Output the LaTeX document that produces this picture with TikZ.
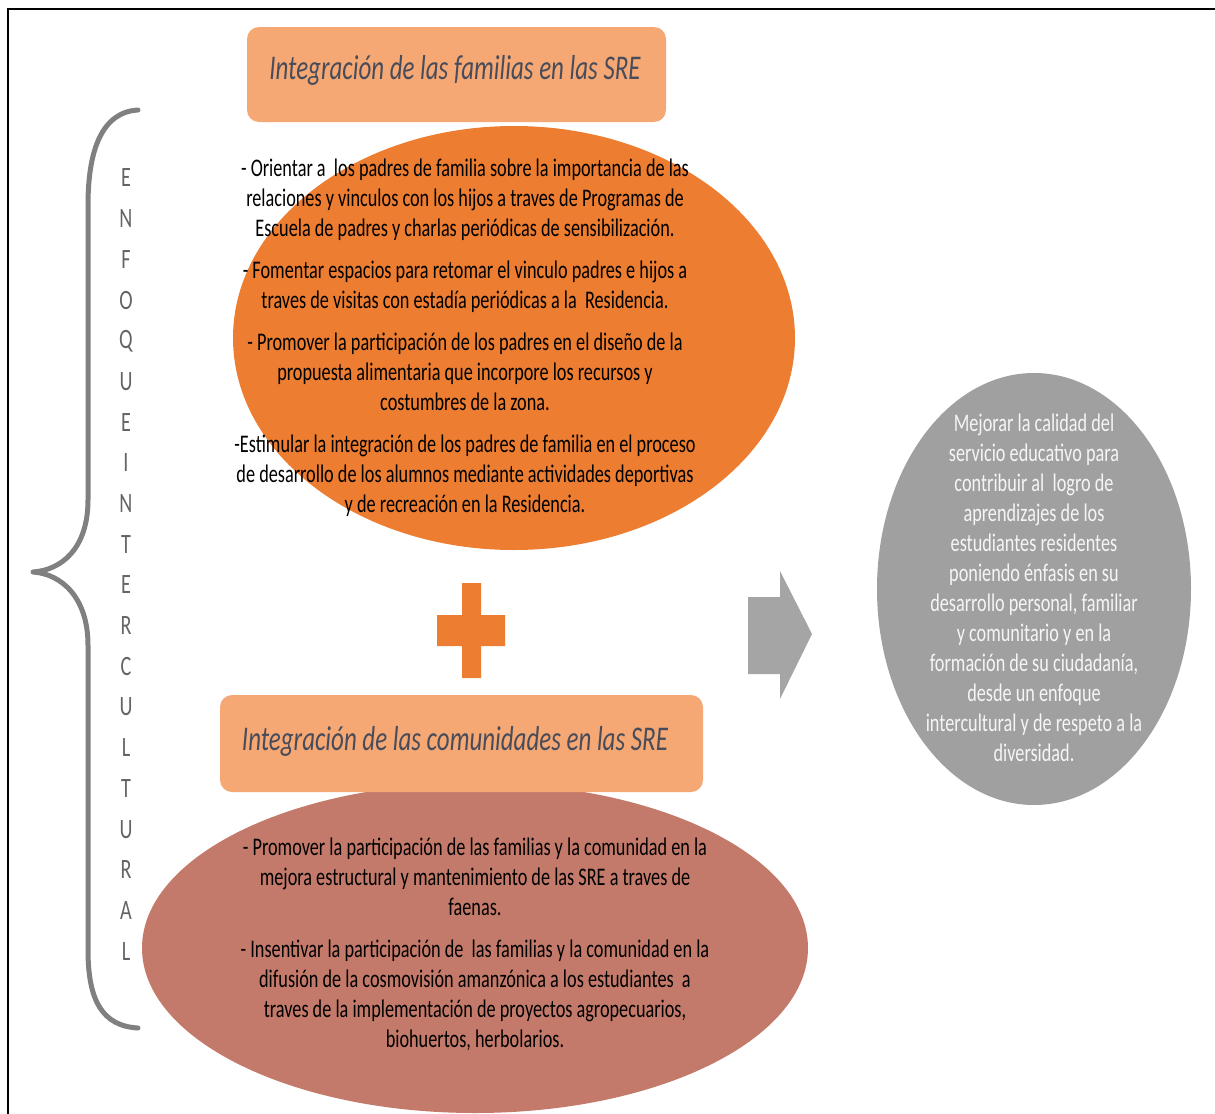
\documentclass[tikz,border=0pt]{standalone}
\usepackage{fontspec}
\setmainfont{Carlito}[FakeStretch=0.72]

\begin{document}
\begin{tikzpicture}[x=0.75pt,y=0.75pt,yscale=-1,xscale=1,
  bodytxt/.style={align=center,inner sep=0pt,font=\fontsize{19}{22.5}\selectfont},
  titletxt/.style={inner sep=0pt,font=\fontsize{26}{28}\selectfont\itshape,text={rgb,255:red,72;green,76;blue,90}}]
\useasboundingbox (0,0) rectangle (1215,1114);

%Shape: Frame
\draw [line width=1.5]  (8,1120) -- (8,9) -- (1220,9) ;

%Shape: Brace
\draw [color={rgb, 255:red, 128; green, 128; blue, 128 }, line width=3.75, line cap=round, line join=round]  (138,110) .. controls (102,112) and (88,150) .. (88,205) -- (88,500) .. controls (88,548) and (62,570) .. (33,572) .. controls (62,574) and (88,598) .. (88,645) -- (88,950) .. controls (88,1000) and (102,1026) .. (138,1028) ;

% Text Node: vertical letters
\foreach \l [count=\i from 0] in {E,N,F,O,Q,U,E,I,N,T,E,R,C,U,L,T,U,R,A,L}
  \draw (126,178+40.7*\i) node [inner sep=0pt, text={rgb,255:red,100;green,100;blue,100}, font=\fontsize{21}{21}\selectfont] (let\i) {\l};

%Shape: Ellipse (familias)
\draw  [draw opacity=0][fill={rgb, 255:red, 237; green, 125; blue, 49 }  ,fill opacity=1 ] (514,338) ellipse (281 and 212) ;
%Shape: Rounded Rect (familias)
\draw  [draw opacity=0][fill={rgb, 255:red, 245; green, 168; blue, 115 }  ,fill opacity=1 ][rounded corners=9] (247,27) rectangle (666,122) ;

%Shape: Cross
\draw  [draw opacity=0][fill={rgb, 255:red, 237; green, 125; blue, 49 }  ,fill opacity=1 ] (462,583) -- (481,583) -- (481,615) -- (505,615) -- (505,646) -- (481,646) -- (481,678) -- (462,678) -- (462,646) -- (437,646) -- (437,615) -- (462,615) -- cycle ;

%Shape: Ellipse (comunidades)
\draw  [draw opacity=0][fill={rgb, 255:red, 196; green, 122; blue, 107 }  ,fill opacity=1 ] (475,948) ellipse (333 and 165) ;
%Shape: Rounded Rect (comunidades)
\draw  [draw opacity=0][fill={rgb, 255:red, 245; green, 168; blue, 115 }  ,fill opacity=1 ][rounded corners=9] (220,695) rectangle (703,792) ;

%Shape: Right Arrow
\draw  [draw opacity=0][fill={rgb, 255:red, 165; green, 165; blue, 165 }  ,fill opacity=1 ] (748,597) -- (780,597) -- (780,571) -- (812,634) -- (780,699) -- (780,674) -- (748,674) -- cycle ;

%Shape: Ellipse (meta)
\draw  [draw opacity=0][fill={rgb, 255:red, 160; green, 160; blue, 160 }  ,fill opacity=1 ] (1034,589) ellipse (157 and 216) ;

% Text Node
\draw (455,70) node [titletxt] (famtitle) {Integración de las familias en las SRE};
% Text Node
\draw (455,741) node [titletxt] (comtitle) {Integración de las comunidades en las SRE};
% Text Node
\draw (465,338) node [bodytxt] (famtxt) {- Orientar a\ \ los padres de familia sobre la importancia de las\\ relaciones y vinculos con los hijos a traves de Programas de\\ Escuela de padres y charlas periódicas de sensibilización.\\[9pt] - Fomentar espacios para retomar el vinculo padres e hijos a\\ traves de visitas con estadía periódicas a la\ \ Residencia.\\[9pt] - Promover la participación de los padres en el diseño de la\\ propuesta alimentaria que incorpore los recursos y\\ costumbres de la zona.\\[9pt] -Estimular la integración de los padres de familia en el proceso\\ de desarrollo de los alumnos mediante actividades deportivas\\ y de recreación en la Residencia.};
% Text Node
\draw (475,944) node [bodytxt] (comtxt) {- Promover la participación de las familias y la comunidad en la\\ mejora estructural y mantenimiento de las SRE a traves de\\ faenas.\\[9pt] - Insentivar la participación de\ \ las familias y la comunidad en la\\ difusión de la cosmovisión amanzónica a los estudiantes\ \ a\\ traves de la implementación de proyectos agropecuarios,\\ biohuertos, herbolarios.};
% Text Node
\draw (1034,588) node [bodytxt, text={rgb,255:red,245;green,245;blue,245}] (metatxt) {Mejorar la calidad del\\ servicio educativo para\\ contribuir al\ \ logro de\\ aprendizajes de los\\ estudiantes residentes\\ poniendo énfasis en su\\ desarrollo personal, familiar\\ y comunitario y en la\\ formación de su ciudadanía,\\ desde un enfoque\\ intercultural y de respeto a la\\ diversidad.};

\end{tikzpicture}
\end{document}
